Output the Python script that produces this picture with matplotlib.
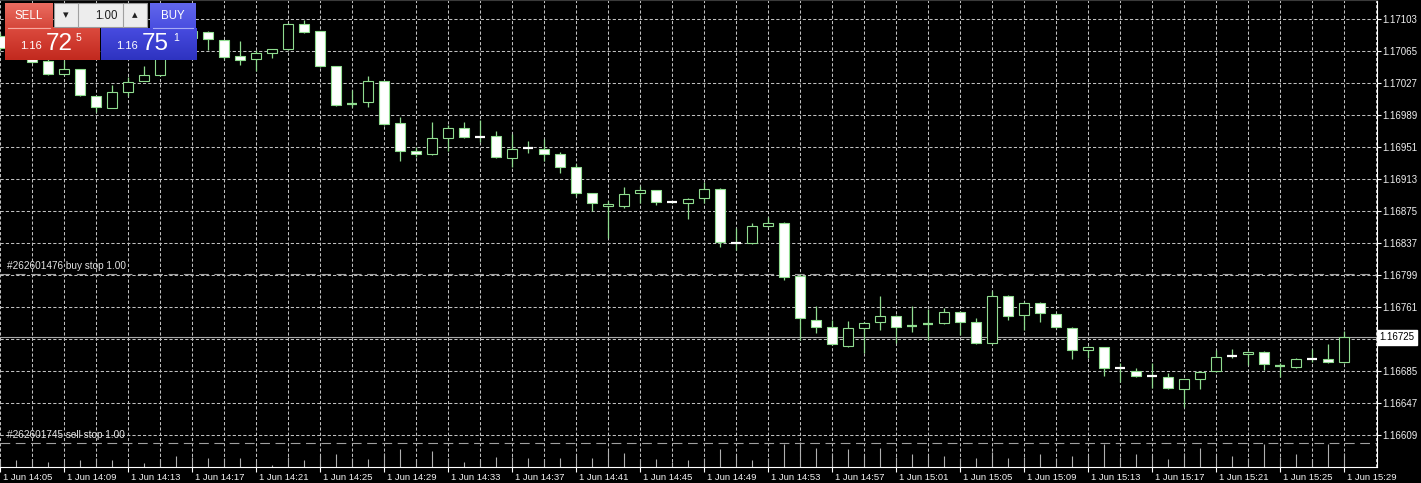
import matplotlib
matplotlib.use("Agg")
import matplotlib.pyplot as plt
from matplotlib.patches import Rectangle
from matplotlib.transforms import ScaledTranslation
import numpy as np

plt.rcParams['font.family'] = ['Liberation Sans', 'DejaVu Sans']
plt.rcParams['lines.scale_dashes'] = False

# ---------------- data (EURUSD M1, 1 Jun 14:05 - 15:29) ----------------
opens = [1.17083, 1.17069, 1.17060, 1.17053, 1.17038, 1.17044, 1.17012, 1.16997, 1.17016, 1.17029,
         1.17036, 1.17072, 1.17089, 1.17088, 1.17078, 1.17059, 1.17055, 1.17063, 1.17067, 1.17097,
         1.17089, 1.17047, 1.17002, 1.17004, 1.17029, 1.16979, 1.16946, 1.16943, 1.16962, 1.16974,
         1.16963, 1.16964, 1.16938, 1.16950, 1.16949, 1.16943, 1.16927, 1.16896, 1.16881, 1.16881,
         1.16896, 1.16900, 1.16886, 1.16884, 1.16890, 1.16901, 1.16837, 1.16837, 1.16857, 1.16861,
         1.16798, 1.16746, 1.16737, 1.16715, 1.16736, 1.16743, 1.16750, 1.16738, 1.16741, 1.16742,
         1.16755, 1.16743, 1.16718, 1.16774, 1.16751, 1.16766, 1.16753, 1.16736, 1.16710, 1.16713,
         1.16689, 1.16685, 1.16679, 1.16678, 1.16664, 1.16675, 1.16685, 1.16703, 1.16705, 1.16708,
         1.16691, 1.16690, 1.16700, 1.16699, 1.16696]
highs = [1.17086, 1.17073, 1.17063, 1.17055, 1.17054, 1.17044, 1.17012, 1.17025, 1.17034, 1.17047,
         1.17075, 1.17093, 1.17092, 1.17089, 1.17078, 1.17077, 1.17066, 1.17068, 1.17098, 1.17102,
         1.17089, 1.17047, 1.17019, 1.17035, 1.17029, 1.16987, 1.16951, 1.16981, 1.16977, 1.16981,
         1.16983, 1.16970, 1.16966, 1.16958, 1.16960, 1.16945, 1.16931, 1.16896, 1.16887, 1.16903,
         1.16905, 1.16900, 1.16887, 1.16890, 1.16909, 1.16902, 1.16855, 1.16861, 1.16868, 1.16862,
         1.16800, 1.16762, 1.16746, 1.16744, 1.16743, 1.16774, 1.16751, 1.16762, 1.16759, 1.16760,
         1.16756, 1.16748, 1.16780, 1.16775, 1.16767, 1.16767, 1.16754, 1.16737, 1.16715, 1.16714,
         1.16694, 1.16689, 1.16694, 1.16683, 1.16676, 1.16685, 1.16710, 1.16711, 1.16709, 1.16709,
         1.16694, 1.16700, 1.16711, 1.16717, 1.16732]
lows = [1.17066, 1.17057, 1.17051, 1.17037, 1.17036, 1.17012, 1.16993, 1.16997, 1.17012, 1.17029,
        1.17035, 1.17070, 1.17078, 1.17066, 1.17055, 1.17048, 1.17041, 1.17057, 1.17066, 1.17087,
        1.17046, 1.17000, 1.16998, 1.16998, 1.16977, 1.16934, 1.16939, 1.16942, 1.16946, 1.16962,
        1.16957, 1.16938, 1.16927, 1.16944, 1.16934, 1.16920, 1.16893, 1.16875, 1.16843, 1.16879,
        1.16884, 1.16882, 1.16884, 1.16865, 1.16884, 1.16832, 1.16829, 1.16836, 1.16856, 1.16793,
        1.16722, 1.16730, 1.16716, 1.16713, 1.16706, 1.16734, 1.16718, 1.16731, 1.16722, 1.16741,
        1.16728, 1.16717, 1.16717, 1.16746, 1.16734, 1.16743, 1.16736, 1.16699, 1.16700, 1.16679,
        1.16672, 1.16678, 1.16665, 1.16664, 1.16642, 1.16664, 1.16684, 1.16700, 1.16692, 1.16686,
        1.16678, 1.16689, 1.16696, 1.16695, 1.16695]
closes = [1.17069, 1.17060, 1.17052, 1.17038, 1.17044, 1.17013, 1.16998, 1.17016, 1.17028, 1.17036,
          1.17072, 1.17090, 1.17080, 1.17079, 1.17058, 1.17054, 1.17063, 1.17067, 1.17097, 1.17088,
          1.17047, 1.17001, 1.17002, 1.17029, 1.16978, 1.16946, 1.16943, 1.16962, 1.16974, 1.16963,
          1.16962, 1.16939, 1.16949, 1.16949, 1.16943, 1.16927, 1.16896, 1.16884, 1.16883, 1.16895,
          1.16900, 1.16886, 1.16885, 1.16889, 1.16901, 1.16838, 1.16836, 1.16857, 1.16861, 1.16797,
          1.16748, 1.16737, 1.16717, 1.16736, 1.16742, 1.16750, 1.16737, 1.16738, 1.16741, 1.16755,
          1.16743, 1.16718, 1.16774, 1.16750, 1.16766, 1.16754, 1.16737, 1.16710, 1.16713, 1.16689,
          1.16688, 1.16679, 1.16678, 1.16665, 1.16675, 1.16684, 1.16702, 1.16702, 1.16708, 1.16693,
          1.16691, 1.16699, 1.16699, 1.16696, 1.16725]
volumes = [18, 21, 24, 15, 18, 21, 27, 21, 21, 12,
           24, 33, 30, 27, 27, 27, 18, 6, 30, 21,
           36, 39, 27, 24, 42, 54, 24, 48, 27, 15,
           21, 30, 30, 27, 24, 27, 36, 27, 51, 42,
           24, 24, 15, 21, 27, 54, 36, 21, 27, 69,
           75, 57, 42, 54, 36, 57, 30, 39, 36, 33,
           27, 27, 45, 27, 30, 39, 27, 33, 36, 69,
           30, 39, 36, 24, 42, 57, 36, 33, 27, 69,
           30, 39, 24, 69, 42]

time_labels = ["1 Jun 14:05", "1 Jun 14:09", "1 Jun 14:13", "1 Jun 14:17", "1 Jun 14:21",
               "1 Jun 14:25", "1 Jun 14:29", "1 Jun 14:33", "1 Jun 14:37", "1 Jun 14:41",
               "1 Jun 14:45", "1 Jun 14:49", "1 Jun 14:53", "1 Jun 14:57", "1 Jun 15:01",
               "1 Jun 15:05", "1 Jun 15:09", "1 Jun 15:13", "1 Jun 15:17", "1 Jun 15:21",
               "1 Jun 15:25", "1 Jun 15:29"]
price_levels = [1.17103, 1.17065, 1.17027, 1.16989, 1.16951, 1.16913, 1.16875,
                1.16837, 1.16799, 1.16761, 1.16723, 1.16685, 1.16647, 1.16609]
current_price = 1.16725
buy_stop_price = 1.16800
sell_stop_price = 1.16600
buy_stop_text = "#262601476 buy stop 1.00"
sell_stop_text = "#262601745 sell stop 1.00"
bid_big, bid_small, bid_pre = "72", "5", "1.16"
ask_big, ask_small, ask_pre = "75", "1", "1.16"
lot_text = "1.00"

# ---------------- figure ----------------
W, H = 1421, 483
fig = plt.figure(figsize=(W / 100, H / 100), dpi=100, facecolor='black')
rect = [0, 16 / H, 1377 / W, 467 / H]
ax = fig.add_axes(rect)
ax.set_facecolor('black')

n = len(opens)
idx = np.arange(n)
ax.set_xlim(-0.02, 86.04)
ax.set_ylim(1.16571, 1.171256)

grid_c = '#c0c0c0'
for p in price_levels:
    ax.axhline(p, color=grid_c, lw=0.75, dashes=(2.3, 1.5), zorder=1)
for gx in np.arange(0, 88, 2):
    ax.axvline(gx, color=grid_c, lw=0.75, dashes=(2.3, 1.5), zorder=1)

# order lines
ax.axhline(buy_stop_price, color='#a0a0a0', lw=0.8, dashes=(7, 4), zorder=2)
ax.axhline(sell_stop_price, color='#a0a0a0', lw=0.8, dashes=(7, 4), zorder=2)
ytr = ax.get_yaxis_transform()
for txt, pr in [(buy_stop_text, buy_stop_price), (sell_stop_text, sell_stop_price)]:
    ax.annotate(txt, xy=(0.005, pr), xycoords=ytr, xytext=(0, 3.4),
                textcoords='offset points', va='baseline', ha='left',
                color='#e4e4e4', fontsize=7.2, zorder=3)

# current bid line
ax.axhline(current_price, color='#a8a8a8', lw=0.8, zorder=2)

# candles
wick_c = '#8fdc8f'
bw = 0.64
for i in range(n):
    o, h, l, c = opens[i], highs[i], lows[i], closes[i]
    bull = c >= o
    ax.vlines(i, l, h, color=wick_c, lw=0.9, zorder=4)
    if abs(c - o) <= 0.0000105:
        ax.hlines((o + c) / 2, i - bw / 2, i + bw / 2,
                  color=(wick_c if bull else 'white'), lw=1.6, zorder=5)
    else:
        ax.add_patch(Rectangle((i - bw / 2, min(o, c)), bw, abs(c - o),
                               facecolor=('black' if bull else 'white'),
                               edgecolor=wick_c, lw=0.8, zorder=5))

# volumes overlay
vax = fig.add_axes(rect, sharex=ax)
vax.patch.set_alpha(0)
vax.set_ylim(0, 1401)
vax.axis('off')
vax.vlines(idx, 0, volumes, color='#b0b0b0', lw=0.8)

# axes styling
ax.spines['left'].set_visible(False)
ax.spines['top'].set_color('#3a3a3a')
ax.spines['right'].set_color('white')
ax.spines['bottom'].set_color('white')
ax.yaxis.tick_right()
shown = [p for p in price_levels if abs(p - current_price) > 0.00005]
ax.set_yticks(shown)
ax.set_yticklabels([f"{p:.5f}" for p in shown])
ax.tick_params(axis='y', colors='white', labelcolor='#f0f0f0', length=3, width=0.8,
               labelsize=7, pad=1)
tick_idx = np.arange(0, n, 4)
ax.set_xticks(tick_idx)
ax.set_xticklabels(time_labels, ha='left')
ax.tick_params(axis='x', colors='white', labelcolor='#f0f0f0', length=3.6, width=0.8,
               labelsize=6.8, pad=0.5)
for lab in ax.get_xticklabels():
    lab.set_transform(lab.get_transform() + ScaledTranslation(2.5 / 100, 0, fig.dpi_scale_trans))

ax.text(1.0018, current_price, f"{current_price:.5f}", transform=ytr, va='center', ha='left',
        color='black', fontsize=7, clip_on=False, zorder=10,
        bbox=dict(boxstyle='square,pad=0.25', fc='white', ec='white'))

# ---------------- one-click trading panel ----------------
pax = fig.add_axes([0, 0, 1, 1])
pax.set_xlim(0, W)
pax.set_ylim(H, 0)
pax.axis('off')
pax.patch.set_alpha(0)


def grad(x0, y0, x1, y1, top, bottom):
    t = np.array(matplotlib.colors.to_rgb(top))
    b = np.array(matplotlib.colors.to_rgb(bottom))
    f = np.linspace(0, 1, 32)[:, None]
    arr = (t * (1 - f) + b * f)[:, None, :]
    pax.imshow(arr, extent=(x0, x1, y1, y0), aspect='auto', origin='upper',
               interpolation='bilinear', zorder=2)


grad(5, 3, 53, 28, '#ec6c60', '#d4473b')
grad(5, 27, 100, 60, '#dc4a3e', '#c22a1f')
grad(150, 3, 196, 28, '#6166ec', '#4a4fe0')
grad(101, 28, 197, 60, '#474be0', '#2e33c0')
pax.plot([8, 50], [27.5, 27.5], color='#f5a8a0', lw=0.8, zorder=3)
pax.plot([153, 193], [27.5, 27.5], color='#a8acf5', lw=0.8, zorder=3)
pax.add_patch(Rectangle((54, 3), 93, 24, facecolor='#ededed', edgecolor='#9a9a9a', lw=0.8, zorder=3))
pax.plot([78, 78], [3, 27], color='#a0a0a0', lw=0.8, zorder=4)
pax.plot([123, 123], [3, 27], color='#a0a0a0', lw=0.8, zorder=4)
pax.set_xlim(0, W)
pax.set_ylim(H, 0)

pax.text(29, 16, "SELL", color='white', fontsize=8.3, ha='center', va='center', zorder=5)
pax.text(173, 16, "BUY", color='white', fontsize=8.3, ha='center', va='center', zorder=5)
pax.text(66, 15, "▾", color='#202020', fontsize=8, ha='center', va='center',
         family='DejaVu Sans', zorder=5)
pax.text(135, 15, "▴", color='#202020', fontsize=8, ha='center', va='center',
         family='DejaVu Sans', zorder=5)
pax.text(118, 16, lot_text, color='#202020', fontsize=8.3, ha='right', va='center', zorder=5)

pax.text(20, 49, bid_pre, color='white', fontsize=8, ha='left', va='baseline', zorder=5)
pax.text(46, 50, bid_big, color='white', fontsize=17.5, ha='left', va='baseline', zorder=5)
pax.text(76, 41, bid_small, color='white', fontsize=7.5, ha='left', va='baseline', zorder=5)
pax.text(116, 49, ask_pre, color='white', fontsize=8, ha='left', va='baseline', zorder=5)
pax.text(142, 50, ask_big, color='white', fontsize=17.5, ha='left', va='baseline', zorder=5)
pax.text(173, 41, ask_small, color='white', fontsize=7.5, ha='left', va='baseline', zorder=5)

fig.savefig('out.png', dpi=100, facecolor='black')
